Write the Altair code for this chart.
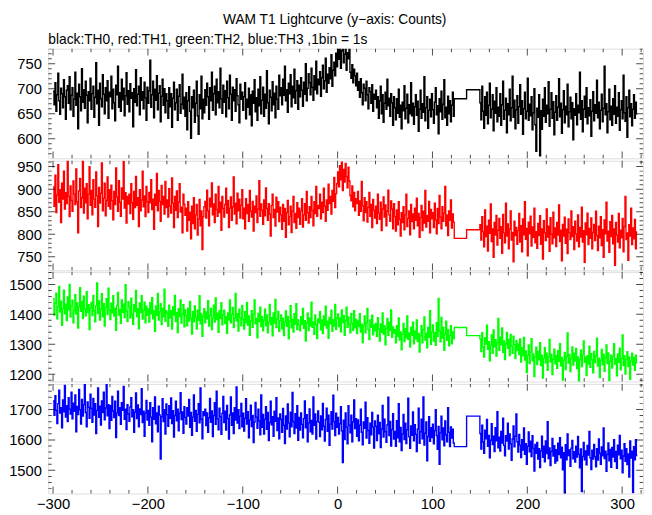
import altair as alt
import pandas as pd

# ---------------- data ----------------
T0_A = -300          # first 1 s bin of the first stretch
T0_B = 150           # first 1 s bin after the gap
GAP_BINS = [123, 136]  # starts of the two long bins across the gap

TITLE = "WAM T1 Lightcurve (y\u2212axis: Counts)"
SUBTITLE = "black:TH0, red:TH1, green:TH2, blue:TH3 ,1bin = 1s"

X_MAJOR = [-300, -200, -100, 0, 100, 200, 300]
X_MINOR = [-300, -280, -260, -240, -220, -200, -180, -160, -140, -120, -100, -80, -60, -40, -20,
           0, 20, 40, 60, 80, 100, 120, 140, 160, 180, 200, 220, 240, 260, 280, 300, 320]

TH0_A = [
695, 668, 712, 655, 688, 731, 676, 649, 701, 690, 662, 718, 684, 639, 697, 706, 671, 724, 658, 687,
702, 645, 679, 733, 667, 691, 620, 709, 684, 656, 740, 673, 698, 661, 715, 687, 632, 694, 676, 721,
659, 690, 705, 643, 683, 752, 670, 697, 627, 711, 680, 664, 728, 689, 650, 702, 676, 716, 641, 693,
684, 725, 660, 699, 672, 636, 707, 688, 745, 663, 692, 655, 719, 678, 701, 646, 686, 732, 669, 696,
654, 710, 681, 692, 624, 700, 673, 738, 666, 689, 705, 648, 722, 677, 694, 660, 713, 682, 637, 703,
671, 696, 757, 663, 688, 715, 642, 699, 677, 726, 658, 691, 706, 634, 685, 719, 667, 700, 652, 690,
676, 641, 702, 664, 690, 623, 681, 713, 658, 672, 699, 637, 685, 708, 651, 669, 729, 660, 683, 645,
692, 618, 676, 704, 655, 601, 684, 662, 697, 633, 671, 715, 646, 609, 688, 660, 725, 640, 679, 652,
698, 667, 711, 684, 639, 702, 676, 733, 657, 690, 705, 648, 719, 672, 694, 662, 741, 680, 651, 707,
673, 696, 644, 715, 682, 660, 727, 689, 637, 703, 676, 698, 655, 720, 686, 668, 632, 709, 679, 693,
657, 684, 712, 640, 679, 663, 701, 648, 688, 626, 695, 671, 718, 654, 682, 637, 699, 666, 724, 650,
677, 703, 645, 689, 661, 736, 672, 630, 697, 683, 656, 714, 668, 691, 642, 705, 679, 659, 727, 686,
702, 668, 719, 687, 745, 676, 698, 653, 711, 690, 728, 664, 705, 682, 739, 671, 696, 716, 659, 707,
684, 722, 697, 665, 713, 689, 750, 676, 701, 730, 712, 688, 741, 703, 677, 726, 698, 755, 690, 719,
708, 734, 685, 722, 747, 700, 716, 761, 693, 729, 711, 742, 720, 768, 705, 737, 753, 726, 771, 744,
782, 759, 790, 741, 776, 795, 752, 769, 788, 737, 772, 760, 785, 733, 721, 748, 712, 739, 726, 706,
731, 697, 714, 683, 720, 692, 668, 709, 701, 676, 715, 688, 660, 702, 694, 671, 708, 655, 689, 679,
697, 662, 684, 641, 676, 705, 650, 688, 633, 671, 693, 659, 719, 666, 681, 645, 690, 672, 627, 684,
662, 638, 680, 651, 699, 643, 667, 620, 673, 656, 706, 640, 661, 689, 632, 668, 650, 712, 646, 671,
629, 664, 688, 647, 675, 615, 659, 697, 641, 670, 653, 724, 636, 662, 684, 621, 657, 679, 644, 690,
658, 631, 673, 702, 648, 666, 610, 680, 654, 695, 639, 669, 718, 642, 663, 627, 685, 650, 676, 634,
667, 693, 645]
TH0_GAP = [680, 698]
TH0_B = [
672, 638, 705, 655, 621, 684, 647, 693, 630, 667, 711, 642, 659, 688, 616, 675, 651, 702, 634, 663,
645, 690, 627, 668, 715, 639, 657, 681, 612, 670, 648, 699, 636, 662, 725, 643, 677, 620, 658, 686,
631, 664, 708, 649, 676, 609, 660, 693, 640, 655, 721, 637, 669, 646, 684, 618, 652, 700, 628, 575,
661, 643, 688, 566, 656, 619, 679, 645, 702, 633, 667, 650, 714, 625, 659, 692, 641, 674, 608, 653,
686, 637, 663, 720, 644, 671, 611, 658, 696, 632, 665, 648, 709, 624, 654, 683, 640, 672, 598, 660,
647, 690, 628, 667, 652, 733, 639, 676, 614, 659, 685, 643, 702, 630, 662, 646, 678, 605, 655, 694,
636, 668, 651, 717, 642, 673, 620, 657, 689, 634, 661, 745, 648, 670, 612, 654, 699, 638, 665, 627,
680, 649, 706, 631, 663, 645, 692, 617, 658, 676, 640, 727, 652, 635, 684, 603, 662, 697, 644, 670,
626, 659, 688, 641, 673, 650]

TH1_A = [
905, 862, 931, 848, 887, 954, 871, 899, 826, 913, 878, 940, 856, 892, 868, 972, 884, 839, 907, 875,
851, 918, 889, 866, 945, 872, 803, 896, 924, 859, 881, 963, 847, 902, 870, 912, 834, 889, 950, 864,
897, 843, 921, 878, 860, 938, 885, 817, 904, 869, 891, 958, 852, 880, 913, 841, 875, 927, 862, 899,
856, 909, 874, 832, 895, 866, 947, 883, 851, 919, 871, 840, 903, 878, 962, 858, 892, 825, 884, 867,
889, 846, 912, 870, 833, 895, 859, 928, 864, 881, 817, 899, 852, 876, 940, 861, 885, 839, 906, 872,
848, 893, 870, 921, 855, 878, 811, 889, 864, 935, 852, 897, 873, 829, 908, 866, 884, 845, 917, 859,
876, 838, 901, 862, 847, 925, 869, 815, 884, 853, 896, 837, 871, 912, 849, 860, 803, 889, 866, 842,
858, 807, 872, 831, 849, 790, 862, 824, 881, 812, 843, 866, 798, 834, 877, 819, 852, 766, 839, 861,
873, 836, 898, 852, 819, 880, 861, 914, 843, 867, 826, 889, 855, 840, 906, 848, 871, 809, 884, 857,
838, 866, 902, 847, 875, 815, 858, 883, 831, 861, 927, 845, 869, 823, 891, 852, 878, 836, 864, 899,
834, 858, 812, 879, 846, 866, 829, 897, 851, 838, 873, 807, 862, 848, 885, 826, 856, 919, 840, 867,
853, 822, 876, 841, 903, 857, 831, 868, 845, 796, 864, 889, 837, 855, 818, 882, 849, 872, 828, 860,
843, 811, 866, 829, 857, 793, 848, 875, 821, 839, 862, 804, 851, 884, 826, 846, 813, 870, 837, 858,
822, 852, 879, 816, 843, 868, 831, 895, 848, 825, 861, 837, 884, 853, 819, 872, 846, 906, 840, 864,
857, 889, 834, 871, 848, 902, 862, 829, 876, 853, 911, 868, 884, 845, 897, 873, 926, 859, 890, 912,
938, 905, 952, 921, 960, 897, 944, 916, 957, 928, 903, 949, 918, 886, 874, 907, 861, 893, 852, 879,
868, 895, 842, 874, 851, 917, 863, 830, 881, 848, 872, 827, 859, 893, 840, 866, 815, 877, 853, 836,
862, 824, 889, 847, 833, 871, 808, 856, 883, 838, 865, 819, 851, 898, 843, 829, 874, 856, 812, 868,
839, 807, 854, 821, 872, 833, 796, 848, 826, 861, 810, 843, 889, 817, 835, 852, 799, 866, 828, 845,
812, 858, 831, 880, 819, 846, 793, 837, 864, 808, 851, 825, 897, 816, 842, 829, 873, 803, 855, 834,
848, 815, 869, 832, 801, 857, 824, 886, 838, 812, 861, 829, 847, 906, 819, 843, 797, 852, 831, 876,
814, 845, 827]
TH1_GAP = [791, 810]
TH1_B = [
821, 787, 839, 806, 772, 854, 795, 818, 763, 831, 802, 867, 784, 812, 749, 826, 798, 842, 776, 809,
835, 791, 817, 758, 844, 803, 781, 869, 796, 823, 768, 811, 852, 787, 804, 739, 829, 797, 815, 778,
808, 846, 783, 819, 761, 834, 799, 872, 789, 813, 752, 827, 801, 840, 774, 816, 793, 858, 781, 806,
769, 824, 797, 841, 778, 812, 745, 830, 803, 786, 856, 794, 818, 762, 837, 800, 779, 849, 792, 814,
773, 826, 798, 865, 784, 809, 741, 822, 796, 838, 780, 811, 757, 834, 803, 788, 852, 795, 817, 766,
829, 801, 785, 843, 772, 815, 794, 860, 783, 808, 738, 825, 799, 847, 777, 813, 791, 836, 768, 804,
822, 786, 851, 797, 764, 818, 792, 839, 775, 810, 749, 832, 801, 871, 785, 807, 760, 828, 795, 842,
779, 812, 731, 826, 798, 783, 846, 770, 809, 792, 835, 761, 817, 884, 788, 803, 742, 821, 796, 858,
777, 814, 790, 833, 768, 805]

TH2_A = [
1452, 1398, 1437, 1471, 1385, 1426, 1493, 1408, 1444, 1363, 1419, 1481, 1402, 1434, 1379, 1458, 1415, 1500, 1391, 1429,
1447, 1372, 1413, 1466, 1401, 1438, 1354, 1425, 1489, 1410, 1443, 1386, 1461, 1418, 1395, 1476, 1407, 1432, 1349, 1421,
1440, 1396, 1463, 1412, 1375, 1429, 1505, 1403, 1445, 1381, 1418, 1469, 1392, 1436, 1361, 1424, 1452, 1399, 1487, 1414,
1383, 1437, 1405, 1462, 1394, 1421, 1347, 1430, 1473, 1398, 1416, 1370, 1448, 1407, 1435, 1389, 1499, 1411, 1376, 1442,
1425, 1388, 1454, 1401, 1367, 1432, 1409, 1480, 1393, 1419, 1352, 1438, 1406, 1462, 1384, 1413, 1441, 1372, 1427, 1397,
1418, 1374, 1439, 1402, 1456, 1385, 1411, 1343, 1428, 1397, 1470, 1381, 1409, 1436, 1366, 1420, 1392, 1484, 1377, 1412,
1404, 1360, 1431, 1388, 1412, 1351, 1425, 1398, 1463, 1376, 1406, 1339, 1419, 1393, 1448, 1371, 1400, 1432, 1358, 1415,
1396, 1362, 1421, 1378, 1443, 1387, 1334, 1409, 1375, 1428, 1390, 1351, 1414, 1380, 1462, 1368, 1401, 1327, 1393, 1419,
1372, 1408, 1385, 1446, 1361, 1397, 1420, 1349, 1389, 1431, 1374, 1455, 1383, 1404, 1340, 1412, 1386, 1439, 1365, 1398,
1414, 1369, 1392, 1337, 1405, 1381, 1448, 1372, 1399, 1423, 1356, 1387, 1470, 1378, 1402, 1344, 1417, 1389, 1362, 1430,
1384, 1351, 1409, 1372, 1439, 1363, 1395, 1330, 1378, 1412, 1357, 1399, 1448, 1368, 1386, 1322, 1403, 1376, 1424, 1359,
1392, 1345, 1381, 1417, 1362, 1398, 1338, 1374, 1433, 1366, 1389, 1328, 1405, 1371, 1450, 1356, 1384, 1410, 1343, 1379,
1398, 1352, 1386, 1329, 1374, 1411, 1360, 1393, 1318, 1378, 1429, 1355, 1383, 1341, 1402, 1367, 1436, 1349, 1381, 1364,
1345, 1392, 1367, 1420, 1353, 1379, 1311, 1371, 1404, 1346, 1388, 1362, 1441, 1357, 1375, 1333, 1398, 1366, 1319, 1385,
1372, 1409, 1348, 1381, 1336, 1395, 1363, 1427, 1354, 1377, 1320, 1390, 1368, 1414, 1343, 1382, 1361, 1433, 1350, 1386,
1401, 1359, 1388, 1342, 1415, 1373, 1396, 1330, 1380, 1424, 1357, 1391, 1366, 1338, 1403, 1371, 1347, 1412, 1355, 1384,
1336, 1378, 1359, 1402, 1341, 1367, 1306, 1363, 1395, 1338, 1372, 1420, 1349, 1316, 1381, 1357, 1397, 1332, 1365, 1345,
1370, 1327, 1389, 1351, 1311, 1368, 1340, 1405, 1334, 1362, 1298, 1353, 1386, 1330, 1374, 1346, 1415, 1323, 1358, 1337,
1349, 1305, 1362, 1327, 1388, 1314, 1341, 1282, 1333, 1370, 1309, 1352, 1322, 1395, 1317, 1338, 1291, 1356, 1330, 1374,
1302, 1345, 1318, 1381, 1309, 1336, 1274, 1328, 1362, 1305, 1349, 1391, 1314, 1337, 1288, 1356, 1323, 1412, 1300, 1341,
1365, 1311, 1339, 1297, 1372, 1326, 1453, 1344, 1308, 1390, 1321, 1356, 1280, 1334, 1377, 1313, 1349, 1295, 1330, 1362,
1302, 1341, 1318]
TH2_GAP = [1356, 1329]
TH2_B = [
1318, 1276, 1339, 1290, 1257, 1322, 1301, 1364, 1283, 1309, 1245, 1297, 1331, 1270, 1348, 1292, 1315, 1261, 1305, 1386,
1280, 1324, 1298, 1355, 1273, 1311, 1249, 1302, 1340, 1287, 1316, 1262, 1333, 1294, 1270, 1327, 1299, 1252, 1312, 1279,
1301, 1266, 1318, 1241, 1289, 1262, 1323, 1247, 1278, 1206, 1263, 1298, 1236, 1274, 1319, 1245, 1268, 1192, 1257, 1290,
1232, 1276, 1248, 1305, 1229, 1264, 1187, 1253, 1289, 1238, 1270, 1213, 1258, 1316, 1241, 1267, 1199, 1250, 1284, 1235,
1262, 1220, 1279, 1243, 1302, 1228, 1256, 1181, 1247, 1273, 1216, 1259, 1338, 1237, 1266, 1209, 1252, 1291, 1231, 1270,
1244, 1286, 1219, 1258, 1174, 1249, 1280, 1226, 1265, 1311, 1240, 1257, 1196, 1262, 1234, 1294, 1223, 1269, 1248, 1205,
1276, 1239, 1261, 1320, 1227, 1254, 1189, 1246, 1283, 1232, 1267, 1210, 1255, 1298, 1236, 1271, 1178, 1243, 1264, 1221,
1259, 1302, 1234, 1252, 1195, 1268, 1240, 1287, 1215, 1253, 1331, 1229, 1262, 1201, 1249, 1275, 1226, 1258, 1183, 1244,
1270, 1231, 1256, 1213, 1264, 1238]

TH3_A = [
1728, 1681, 1745, 1697, 1654, 1719, 1763, 1688, 1706, 1640, 1731, 1692, 1779, 1675, 1712, 1660, 1739, 1701, 1685, 1757,
1669, 1721, 1694, 1748, 1627, 1710, 1683, 1766, 1699, 1652, 1733, 1678, 1716, 1794, 1690, 1643, 1725, 1707, 1671, 1750,
1703, 1658, 1736, 1682, 1719, 1621, 1697, 1771, 1674, 1711, 1649, 1728, 1690, 1757, 1666, 1705, 1784, 1679, 1716, 1637,
1712, 1664, 1743, 1695, 1673, 1727, 1608, 1689, 1760, 1680, 1706, 1651, 1722, 1697, 1776, 1668, 1701, 1634, 1716, 1685,
1661, 1708, 1739, 1676, 1699, 1625, 1691, 1754, 1670, 1715, 1643, 1702, 1683, 1768, 1657, 1694, 1612, 1688, 1730, 1665,
1697, 1648, 1722, 1675, 1594, 1706, 1668, 1741, 1653, 1689, 1627, 1711, 1682, 1537, 1676, 1735, 1660, 1699, 1619, 1718,
1683, 1645, 1712, 1671, 1738, 1654, 1696, 1609, 1680, 1727, 1663, 1701, 1630, 1688, 1755, 1667, 1692, 1622, 1709, 1674,
1652, 1706, 1678, 1733, 1641, 1690, 1615, 1675, 1748, 1661, 1697, 1628, 1684, 1719, 1656, 1771, 1668, 1604, 1693, 1680,
1701, 1647, 1689, 1625, 1672, 1736, 1658, 1695, 1611, 1680, 1722, 1651, 1760, 1669, 1633, 1704, 1676, 1618, 1687, 1743,
1657, 1694, 1632, 1713, 1670, 1603, 1682, 1741, 1648, 1689, 1621, 1706, 1665, 1774, 1655, 1699, 1637, 1678, 1720, 1643,
1688, 1629, 1671, 1735, 1652, 1693, 1607, 1666, 1714, 1644, 1680, 1591, 1659, 1723, 1675, 1638, 1701, 1662, 1617, 1748,
1641, 1684, 1619, 1668, 1709, 1635, 1690, 1598, 1657, 1727, 1650, 1676, 1612, 1694, 1661, 1739, 1631, 1672, 1604, 1685,
1667, 1625, 1703, 1648, 1588, 1679, 1636, 1718, 1655, 1610, 1691, 1643, 1756, 1660, 1621, 1686, 1639, 1712, 1599, 1674,
1632, 1689, 1651, 1607, 1670, 1728, 1640, 1683, 1594, 1656, 1702, 1627, 1664, 1619, 1741, 1648, 1685, 1603, 1661, 1695,
1658, 1611, 1679, 1633, 1720, 1645, 1596, 1667, 1704, 1628, 1681, 1582, 1652, 1693, 1636, 1747, 1660, 1614, 1688, 1641,
1674, 1619, 1653, 1709, 1630, 1526, 1665, 1601, 1689, 1642, 1587, 1712, 1648, 1623, 1681, 1594, 1659, 1731, 1637, 1670,
1612, 1666, 1597, 1648, 1701, 1625, 1584, 1659, 1638, 1724, 1606, 1673, 1631, 1589, 1655, 1617, 1690, 1642, 1573, 1662,
1645, 1598, 1681, 1620, 1657, 1575, 1636, 1713, 1609, 1668, 1627, 1592, 1649, 1740, 1614, 1661, 1580, 1634, 1686, 1603,
1628, 1579, 1663, 1607, 1719, 1594, 1641, 1565, 1620, 1684, 1601, 1655, 1588, 1633, 1737, 1610, 1572, 1646, 1615, 1692,
1597, 1650, 1618, 1562, 1635, 1704, 1589, 1627, 1668, 1604, 1741, 1583, 1622, 1659, 1531, 1611, 1676, 1595, 1640, 1608,
1652, 1587, 1631, 1699, 1614, 1569, 1644, 1520, 1623, 1678, 1600, 1639, 1581, 1662, 1617, 1594, 1706, 1625, 1578, 1643,
1606, 1635, 1590]
TH3_GAP = [1578, 1678]
TH3_B = [
1621, 1570, 1648, 1593, 1556, 1632, 1604, 1667, 1579, 1615, 1541, 1599, 1653, 1585, 1612, 1562, 1640, 1597, 1693, 1574,
1609, 1563, 1628, 1590, 1671, 1582, 1548, 1614, 1596, 1655, 1570, 1620, 1587, 1533, 1603, 1646, 1577, 1612, 1685, 1594,
1560, 1618, 1583, 1542, 1601, 1567, 1639, 1553, 1588, 1520, 1579, 1626, 1561, 1596, 1545, 1614, 1572, 1498, 1585, 1556,
1592, 1537, 1571, 1509, 1564, 1612, 1543, 1579, 1528, 1597, 1555, 1660, 1539, 1574, 1516, 1562, 1605, 1547, 1581, 1524,
1568, 1531, 1589, 1552, 1607, 1541, 1576, 1502, 1558, 1423, 1584, 1535, 1620, 1549, 1567, 1513, 1573, 1598, 1538, 1561,
1527, 1579, 1544, 1611, 1553, 1508, 1570, 1430, 1546, 1592, 1535, 1564, 1518, 1582, 1550, 1628, 1541, 1503, 1566, 1537,
1585, 1545, 1512, 1571, 1534, 1603, 1556, 1520, 1577, 1548, 1639, 1539, 1563, 1497, 1552, 1590, 1531, 1569, 1510, 1575,
1544, 1601, 1529, 1562, 1507, 1583, 1551, 1615, 1538, 1566, 1492, 1547, 1588, 1530, 1571, 1519, 1554, 1478, 1597, 1540,
1563, 1427, 1578, 1535, 1601, 1549]

PANELS = [
    # values A, gap, B, colour, y domain, major ticks, minor step
    (TH0_A, TH0_GAP, TH0_B, "#000000", [561, 780], [600, 650, 700, 750], 10),
    (TH1_A, TH1_GAP, TH1_B, "#ff0000", [720, 963], [750, 800, 850, 900, 950], 10),
    (TH2_A, TH2_GAP, TH2_B, "#00ff00", [1176, 1542], [1200, 1300, 1400, 1500], 20),
    (TH3_A, TH3_GAP, TH3_B, "#0000ff", [1424, 1784], [1500, 1600, 1700], 20),
]

# ---------------- chart ----------------
FONT = "Liberation Sans"
W, H = 605, 111.5
X_DOMAIN = [-305, 322]
MAJ, MIN = 14, 7   # tick mark sizes (half is visible inside the frame)


def series(a, gap, b):
    t = [T0_A + i for i in range(len(a))] + list(GAP_BINS) + [T0_B + i for i in range(len(b))]
    v = list(a) + list(gap) + list(b)
    t.append(T0_B + len(b))
    v.append(b[-1])
    return pd.DataFrame({"t": t, "v": v})


xscale = alt.Scale(domain=X_DOMAIN, nice=False, zero=False)
xt_df = pd.DataFrame({"t": X_MINOR, "len": [MAJ if t in X_MAJOR else MIN for t in X_MINOR]})


def panel(a, gap, b, color, ydom, ymajor, ystep, bottom, first):
    df = series(a, gap, b)
    yscale = alt.Scale(domain=ydom, nice=False, zero=False)
    if bottom:
        xaxis = alt.Axis(values=X_MAJOR, ticks=False, domain=False, grid=False, title=None,
                         labelFontSize=15, labelPadding=3, format="d", labelColor="black",
                         labelFont=FONT)
    else:
        xaxis = None
    yaxis = alt.Axis(values=ymajor, ticks=False, domain=False, grid=False, title=None,
                     labelFontSize=15, labelPadding=7, format="d", labelColor="black",
                     labelFont=FONT)
    X = alt.X("t:Q", scale=xscale, axis=xaxis)
    Y = alt.Y("v:Q", scale=yscale, axis=yaxis)
    line = alt.Chart(df).mark_line(color=color, strokeWidth=1.4, interpolate="step-after",
                                   clip=True).encode(x=X, y=Y)
    ylo = (ydom[0] // ystep + 1) * ystep
    yminor = list(range(int(ylo), int(ydom[1]) + 1, ystep))
    yt_df = pd.DataFrame({"v": yminor, "len": [MAJ if v in ymajor else MIN for v in yminor]})
    size = alt.Size("len:Q", scale=None, legend=None)
    xt = alt.Chart(xt_df).mark_tick(orient="vertical", color="black", thickness=1, clip=True)
    yt = alt.Chart(yt_df).mark_tick(orient="horizontal", color="black", thickness=1, clip=True)
    layers = [
        line,
        xt.encode(x=X, y=alt.value(0), size=size),
        xt.encode(x=X, y=alt.value(H), size=size),
        yt.encode(y=Y, x=alt.value(0), size=size),
        yt.encode(y=Y, x=alt.value(W), size=size),
    ]
    props = dict(width=W, height=H)
    if first:
        props["title"] = alt.TitleParams(SUBTITLE, anchor="start", frame="group", fontSize=14,
                                         fontWeight="normal", font=FONT, color="black", offset=2)
    return alt.layer(*layers).properties(**props)


charts = [panel(a, g, b, c, yd, ym, ys, i == len(PANELS) - 1, i == 0)
          for i, (a, g, b, c, yd, ym, ys) in enumerate(PANELS)]

chart = alt.vconcat(*charts, spacing=0).properties(
    title=alt.TitleParams(TITLE, anchor="middle", fontSize=14, fontWeight="normal", font=FONT,
                          color="black", offset=6, dx=9),
    padding={"left": 0, "top": 0, "right": 0, "bottom": 0},
).configure_view(stroke="black", strokeWidth=1).configure(background="white")

chart.save("out.html", embed_options={"renderer": "svg", "actions": False})
